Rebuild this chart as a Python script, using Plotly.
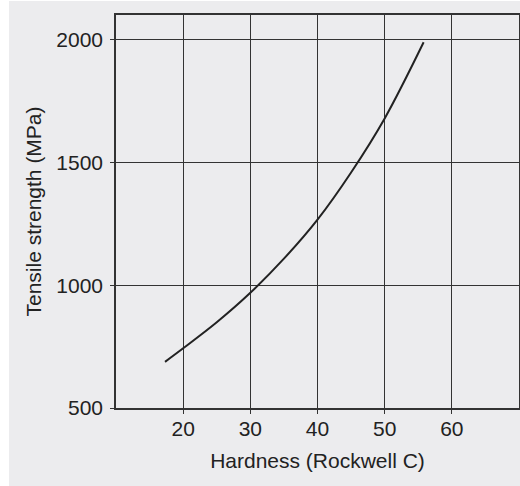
import plotly.graph_objects as go

hardness = [17.3, 20, 25, 30, 35, 40, 45, 50, 55.8]
strength = [688, 743, 849, 969, 1108, 1267, 1459, 1679, 1989]

x_ticks = [20, 30, 40, 50, 60]
y_ticks = [500, 1000, 1500, 2000]

fig = go.Figure()
fig.add_trace(go.Scatter(x=hardness, y=strength, mode="lines",
                         line=dict(color="#222222", width=2, shape="spline", smoothing=1),
                         showlegend=False, hoverinfo="skip"))

fig.add_shape(type="rect", xref="paper", yref="paper",
              x0=-0.2655, x1=1.01, y0=-0.25, y1=1.0356,
              fillcolor="#ececee", line=dict(width=0), layer="below")

axis_common = dict(showgrid=True, gridcolor="#333333", gridwidth=1.4,
                   showline=True, linecolor="#333333", linewidth=1.6,
                   mirror=True, ticks="outside", ticklen=4, tickcolor="#333333",
                   zeroline=False, tickfont=dict(size=21, color="#222222"))

fig.update_xaxes(range=[10, 70], tickvals=x_ticks, ticklabelstandoff=-3,
                 title=dict(text="Hardness (Rockwell C)", font=dict(size=21, color="#222222"), standoff=14),
                 **axis_common)
fig.update_yaxes(range=[500, 2100], tickvals=y_ticks, ticklabelstandoff=3,
                 title=dict(text="Tensile strength (MPa)", font=dict(size=21, color="#222222"), standoff=9),
                 **axis_common)

fig.update_layout(width=520, height=486,
                  margin=dict(l=116, r=1, t=15, b=78, autoexpand=False),
                  paper_bgcolor="white", plot_bgcolor="rgba(0,0,0,0)",
                  font=dict(family="Liberation Sans, Arial, sans-serif", color="#222222"))

post = ("document.body.style.margin='0';document.body.style.padding='0';"
        "document.documentElement.style.overflow='hidden';document.body.style.overflow='hidden';"
        "var gd=document.getElementById('{plot_id}');Plotly.relayout(gd,{width:520,height:486});")

fig.write_html("out.html", post_script=post, config={"displayModeBar": False})
